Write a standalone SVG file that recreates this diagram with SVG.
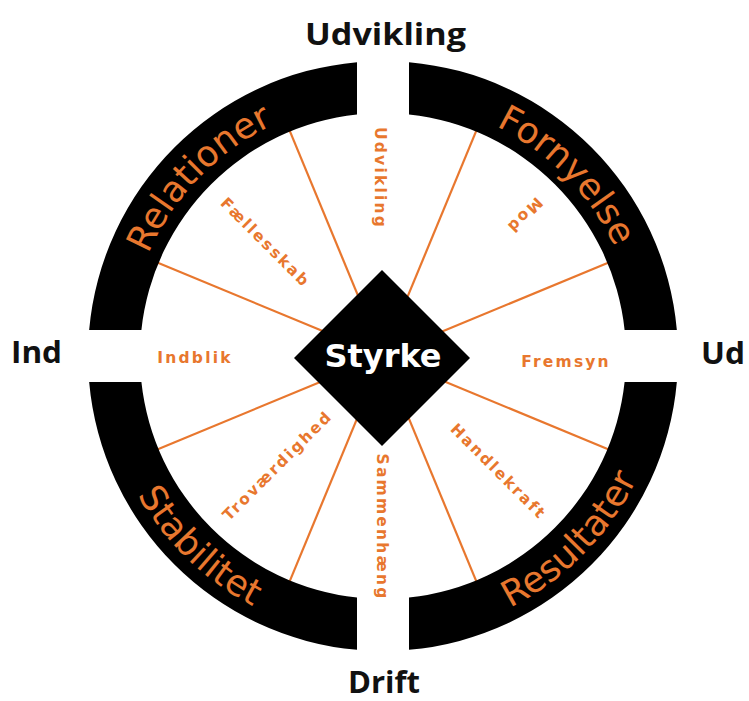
<svg xmlns="http://www.w3.org/2000/svg" width="749" height="701" viewBox="0 0 749 701">
  <defs>
    <style>
      .ring { fill: #000; }
      .spoke { stroke: #E8772E; stroke-width: 2.2; fill: none; stroke-linecap: butt; }
      .ringlabel { font-family: "DejaVu Sans", "Liberation Sans", sans-serif; font-size: 36px; fill: #E8772E; }
      .value { font-family: "DejaVu Sans", "Liberation Sans", sans-serif; font-weight: bold; font-size: 15.5px; letter-spacing: 2.2px; fill: #E8772E; text-anchor: middle; }
      .axis { font-family: "Open Sans", "Liberation Sans", sans-serif; font-weight: bold; font-size: 30px; fill: #111; }
      .core { font-family: "DejaVu Sans", "Liberation Sans", sans-serif; font-weight: bold; font-size: 32px; fill: #fff; text-anchor: middle; }
    </style>
    <!-- arcs used as baselines for the ring captions -->
    <path id="arcRelationer" d="M 136.92 426.56 A 256 256 0 0 1 444.93 107.60"/>
    <path id="arcFornyelse" d="M 318.90 108.15 A 256 256 0 0 1 629.69 424.41"/>
    <path id="arcStabilitet" d="M 109.38 287.78 A 282 282 0 0 0 460.73 627.08"/>
    <path id="arcResultater" d="M 312.39 629.02 A 282 282 0 0 0 654.74 280.64"/>
  </defs>

  <rect width="749" height="701" fill="#fff"/>

  <!-- radial dividers between the eight values -->
  <g id="connectors">
    <line class="spoke" x1="442.13" y1="380.49" x2="609.35" y2="449.76"/>
    <line class="spoke" x1="407.49" y1="415.13" x2="476.76" y2="582.35"/>
    <line class="spoke" x1="358.51" y1="415.13" x2="289.24" y2="582.35"/>
    <line class="spoke" x1="323.87" y1="380.49" x2="156.65" y2="449.76"/>
    <line class="spoke" x1="323.87" y1="331.51" x2="156.65" y2="262.24"/>
    <line class="spoke" x1="358.51" y1="296.87" x2="289.24" y2="129.65"/>
    <line class="spoke" x1="407.49" y1="296.87" x2="476.76" y2="129.65"/>
    <line class="spoke" x1="442.13" y1="331.51" x2="609.35" y2="262.24"/>
  </g>

  <!-- outer ring, four quadrants -->
  <g id="relationer">
    <path class="ring" d="M 357 62.15 A 295 295 0 0 0 89.15 330 L 141.4 330 A 243 243 0 0 1 357 114.4 Z"/>
    <text class="ringlabel"><textPath href="#arcRelationer" startOffset="50%" text-anchor="middle">Relationer</textPath></text>
  </g>
  <g id="fornyelse">
    <path class="ring" d="M 409 62.15 A 295 295 0 0 1 676.85 330 L 624.6 330 A 243 243 0 0 0 409 114.4 Z"/>
    <text class="ringlabel"><textPath href="#arcFornyelse" startOffset="50%" text-anchor="middle">Fornyelse</textPath></text>
  </g>
  <g id="resultater">
    <path class="ring" d="M 676.85 382 A 295 295 0 0 1 409 649.85 L 409 597.6 A 243 243 0 0 0 624.6 382 Z"/>
    <text class="ringlabel"><textPath href="#arcResultater" startOffset="50%" text-anchor="middle">Resultater</textPath></text>
  </g>
  <g id="stabilitet">
    <path class="ring" d="M 357 649.85 A 295 295 0 0 1 89.15 382 L 141.4 382 A 243 243 0 0 0 357 597.6 Z"/>
    <text class="ringlabel"><textPath href="#arcStabilitet" startOffset="50%" text-anchor="middle">Stabilitet</textPath></text>
  </g>

  <!-- values inside the ring -->
  <g id="v-udvikling"><text class="value" transform="translate(381,178) rotate(90)" y="6">Udvikling</text></g>
  <g id="v-mod"><text class="value" transform="translate(525,216) rotate(135)" y="6">Mod</text></g>
  <g id="v-fremsyn"><text class="value" transform="translate(566,361)" y="6">Fremsyn</text></g>
  <g id="v-handlekraft"><text class="value" transform="translate(499,471) rotate(45)" y="6">Handlekraft</text></g>
  <g id="v-sammenhaeng"><text class="value" transform="translate(383,527) rotate(90)" y="6">Sammenhæng</text></g>
  <g id="v-trovaerdighed"><text class="value" transform="translate(277,465) rotate(-45)" y="6">Troværdighed</text></g>
  <g id="v-indblik"><text class="value" transform="translate(195,357)" y="6">Indblik</text></g>
  <g id="v-faellesskab"><text class="value" transform="translate(266,242) rotate(45)" y="6">Fællesskab</text></g>

  <!-- centre -->
  <g id="styrke">
    <polygon points="382,270 470,358 382,446 294,358" fill="#000"/>
    <text class="core" x="383" y="367">Styrke</text>
  </g>

  <!-- axis captions -->
  <g id="axis-udvikling"><text class="axis" x="305" y="45" textLength="161" lengthAdjust="spacingAndGlyphs">Udvikling</text></g>
  <g id="axis-ind"><text class="axis" x="11" y="363" textLength="51" lengthAdjust="spacingAndGlyphs">Ind</text></g>
  <g id="axis-ud"><text class="axis" x="701" y="364" textLength="44" lengthAdjust="spacingAndGlyphs">Ud</text></g>
  <g id="axis-drift"><text class="axis" x="348" y="693" textLength="72" lengthAdjust="spacingAndGlyphs">Drift</text></g>
</svg>
